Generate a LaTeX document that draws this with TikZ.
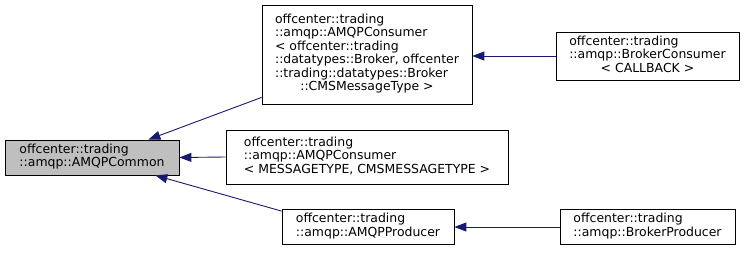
\documentclass[tikz,border=0pt]{standalone}
\usepackage{fontspec}
\setmainfont{DejaVu Sans}
\usetikzlibrary{arrows.meta}
\definecolor{edgeblue}{HTML}{191970}
\definecolor{basegray}{HTML}{BFBFBF}
\newcommand{\boxlines}[1]{\begin{tabular}{@{}l@{}}#1\end{tabular}}
\newcommand{\midline}[1]{\multicolumn{1}{@{}c@{}}{#1}}
\begin{document}
\begin{tikzpicture}[x=1bp,y=-1bp,
  cls/.style={draw=black, line width=0.8bp, fill=white, inner sep=0pt,
    font=\fontsize{12.5}{13.5}\selectfont},
  basecls/.style={cls, fill=basegray},
  inh/.style={draw=edgeblue, line width=0.9bp,
    {Triangle[length=12bp,width=9bp,fill=edgeblue]}-}]
\useasboundingbox (0,0) rectangle (744,257);

\node[basecls, minimum width=174bp, minimum height=35bp] (A) at (92,157.5)
  {\boxlines{offcenter::trading\\::amqp::AMQPCommon}};

\node[cls, minimum width=210bp, minimum height=99bp] (B) at (367,54.5)
  {\boxlines{offcenter::trading\\::amqp::AMQPConsumer\\< offcenter::trading\\::datatypes::Broker, offcenter\\::trading::datatypes::Broker\\\midline{::CMSMessageType >}}};

\node[cls, minimum width=282bp, minimum height=54bp] (C) at (367,157)
  {\boxlines{offcenter::trading\\::amqp::AMQPConsumer\\< MESSAGETYPE, CMSMESSAGETYPE >}};

\node[cls, minimum width=172bp, minimum height=35bp] (D) at (368,227)
  {\boxlines{offcenter::trading\\::amqp::AMQPProducer}};

\node[cls, minimum width=183bp, minimum height=48bp] (E) at (647.5,56)
  {\boxlines{offcenter::trading\\::amqp::BrokerConsumer\\\midline{< CALLBACK >}}};

\node[cls, minimum width=175bp, minimum height=35bp] (F) at (647.5,227)
  {\boxlines{offcenter::trading\\::amqp::BrokerProducer}};

% inheritance edges, arrow tip at the base class
\draw[inh] ([xshift=-31bp]A.north east) -- ([yshift=7bp]B.south west);
\draw[inh] (A.east) -- (C.west);
\draw[inh] ([xshift=-24bp]A.south east) -- ([yshift=-2bp]D.north west);
\draw[inh] (B.east |- E.west) -- (E.west);
\draw[inh] (D.east) -- (F.west);
\end{tikzpicture}
\end{document}
